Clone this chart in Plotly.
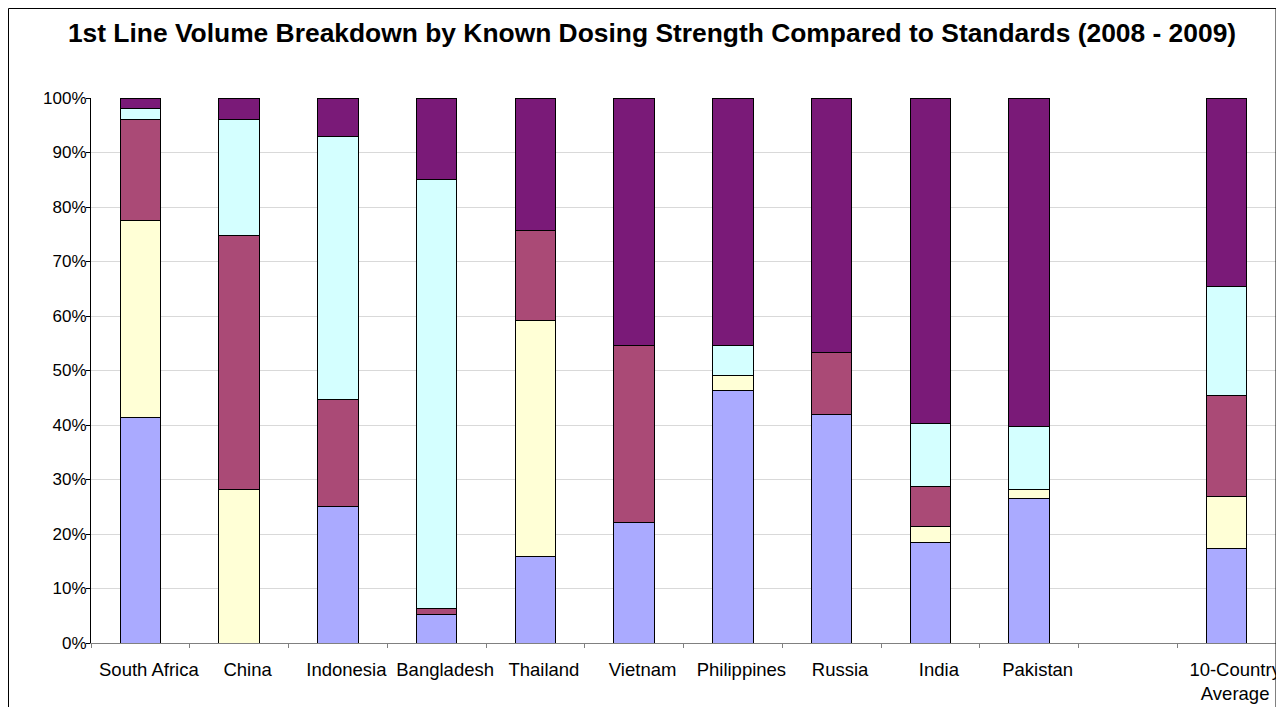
import plotly.graph_objects as go

categories = ["South Africa", "China", "Indonesia", "Bangladesh", "Thailand", "Vietnam",
              "Philippines", "Russia", "India", "Pakistan", " ", "10-Country<br>Average"]

# Stacked shares (%), bottom to top
seg1 = [41.4, 0.0, 25.0, 5.2, 15.8, 22.2, 46.4, 41.9, 18.4, 26.5, None, 17.4]
seg2 = [36.2, 28.1, 0.0, 0.0, 43.4, 0.0, 2.6, 0.0, 3.0, 1.6, None, 9.4]
seg3 = [18.5, 46.7, 19.7, 1.1, 16.4, 32.4, 0.0, 11.4, 7.3, 0.0, None, 18.6]
seg4 = [1.9, 21.3, 48.2, 78.8, 0.0, 0.0, 5.6, 0.0, 11.6, 11.7, None, 20.0]
seg5 = [2.0, 3.9, 7.1, 14.9, 24.4, 45.4, 45.4, 46.7, 59.7, 60.2, None, 34.6]

series = [
    ("Segment 1", seg1, "#AAAAFF"),
    ("Segment 2", seg2, "#FFFFD6"),
    ("Segment 3", seg3, "#AA4A76"),
    ("Segment 4", seg4, "#D4FFFF"),
    ("Segment 5", seg5, "#7A1A78"),
]

fig = go.Figure()
for name, vals, col in series:
    fig.add_trace(go.Bar(
        x=categories, y=vals, name=name,
        marker=dict(color=col, line=dict(color="#000000", width=1)),
        width=0.41,
    ))

W, H = 1276, 699
L, R, T, B = 83, 8, 90, 64
pw, ph = W - L - R, H - T - B
n = len(categories)
label_shift = 8.5 / (pw / n)  # labels sit slightly right of bar centres

fig.update_layout(
    barmode="stack",
    width=W, height=H,
    margin=dict(l=L, r=R, t=T, b=B, autoexpand=False),
    paper_bgcolor="white", plot_bgcolor="white",
    showlegend=False,
    font=dict(family="Liberation Sans, Arial, sans-serif", size=17, color="#000000"),
    title=dict(
        text="<b>1st Line Volume Breakdown by Known Dosing Strength Compared to Standards (2008 - 2009)</b>",
        x=(652 - 8) / W, xref="container", xanchor="center",
        y=1 - 25 / H, yref="container", yanchor="middle",
        font=dict(size=26.4, color="#000000"),
    ),
    xaxis=dict(
        type="category",
        categoryorder="array", categoryarray=categories,
        range=[-0.5, n - 0.5],
        showline=True, linecolor="#808080", linewidth=1,
        ticks="outside", tickson="boundaries", ticklen=4, tickcolor="#808080",
        showgrid=False, showticklabels=False,
    ),
    xaxis2=dict(
        overlaying="x", anchor="y", side="bottom",
        range=[-0.5 - label_shift, n - 0.5 - label_shift],
        tickmode="array", tickvals=list(range(n)), ticktext=categories,
        showline=False, ticks="", showgrid=False, zeroline=False,
        tickangle=0, ticklabelstandoff=13,
        tickfont=dict(size=18.5),
    ),
    yaxis=dict(
        range=[0, 100], dtick=10, ticksuffix="%",
        showline=True, linecolor="#000000", linewidth=1,
        ticks="outside", ticklen=4, tickcolor="#000000",
        showgrid=True, gridcolor="#D9D9D9", gridwidth=1,
        zeroline=False, ticklabelstandoff=-4,
        tickfont=dict(size=17),
    ),
    shapes=[
        dict(type="rect", xref="paper", yref="paper",
             x0=-(L - 0.5) / pw, x1=1.0, y0=-(B + 5) / ph, y1=1 + (T - 0.5) / ph,
             line=dict(color="#000000", width=1), fillcolor="rgba(0,0,0,0)", layer="above"),
    ],
)

# invisible anchor trace so the label axis is drawn
fig.add_trace(go.Scatter(x=[0], y=[None], xaxis="x2", yaxis="y", showlegend=False,
                         hoverinfo="skip", mode="markers"))

fig.write_html("out.html")
